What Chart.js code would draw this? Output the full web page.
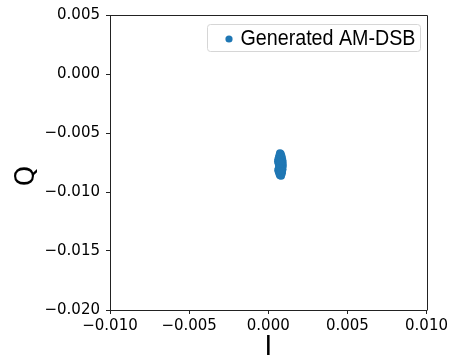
<!DOCTYPE html>
<html>
<head>
<meta charset="utf-8">
<script src="https://cdn.jsdelivr.net/npm/chart.js@4/dist/chart.umd.min.js"></script>
<style>
html,body{margin:0;padding:0;background:#fff;}
#wrap{width:451px;height:356px;}
</style>
</head>
<body>
<div id="wrap"><canvas id="c" width="451" height="356"></canvas></div>
<script>
const seriesName = "Generated AM-DSB";
const xTitle = "I";
const yTitle = "Q";
const xTicks = [-0.010, -0.005, 0.000, 0.005, 0.010];
const yTicks = [-0.020, -0.015, -0.010, -0.005, 0.000, 0.005];
const iValues = [0.00074,0.00079,0.00071,0.00083,0.00068,0.00077,0.00086,0.00064,0.00073,0.00082,0.00089,0.00062,0.00070,0.00078,0.00085,0.00091,0.00065,0.00074,0.00081,0.00088,0.00069,0.00077,0.00084,0.00092,0.00071,0.00079,0.00087,0.00066,0.00075,0.00083,0.00090,0.00063,0.00072,0.00080,0.00087,0.00067,0.00076,0.00084,0.00071,0.00079,0.00086,0.00074,0.00081,0.00077,0.00073,0.00080];
const qValues = [-0.00672,-0.00678,-0.00690,-0.00694,-0.00706,-0.00708,-0.00712,-0.00722,-0.00725,-0.00728,-0.00731,-0.00740,-0.00743,-0.00738,-0.00746,-0.00749,-0.00757,-0.00760,-0.00755,-0.00763,-0.00772,-0.00775,-0.00770,-0.00778,-0.00788,-0.00791,-0.00785,-0.00801,-0.00804,-0.00799,-0.00807,-0.00815,-0.00818,-0.00813,-0.00821,-0.00830,-0.00833,-0.00828,-0.00845,-0.00848,-0.00841,-0.00858,-0.00862,-0.00752,-0.00796,-0.00823];

const points = iValues.map((x, i) => ({x: x, y: qValues[i]}));
const pointColor = '#1f77b4';

function fmt(v){
  if (Math.abs(v) < 1e-9) return "0.000";
  return v.toFixed(3).replace('-', '\u2212');
}

function roundRect(ctx, x0, y0, x1, y1, r){
  ctx.beginPath();
  ctx.moveTo(x0 + r, y0);
  ctx.lineTo(x1 - r, y0);
  ctx.quadraticCurveTo(x1, y0, x1, y0 + r);
  ctx.lineTo(x1, y1 - r);
  ctx.quadraticCurveTo(x1, y1, x1 - r, y1);
  ctx.lineTo(x0 + r, y1);
  ctx.quadraticCurveTo(x0, y1, x0, y1 - r);
  ctx.lineTo(x0, y0 + r);
  ctx.quadraticCurveTo(x0, y0, x0 + r, y0);
  ctx.closePath();
}

const bgPlugin = {
  id: 'bg',
  beforeDraw(chart){
    const ctx = chart.ctx;
    ctx.save();
    ctx.fillStyle = '#fff';
    ctx.fillRect(0, 0, chart.width, chart.height);
    ctx.restore();
  }
};

const overlayPlugin = {
  id: 'overlay',
  afterDraw(chart){
    const a = chart.chartArea;
    const ctx = chart.ctx;
    ctx.save();
    // top and right spines
    ctx.strokeStyle = '#222';
    ctx.lineWidth = 1;
    ctx.beginPath();
    ctx.moveTo(Math.round(a.left) + 0.5, Math.round(a.top) + 0.5);
    ctx.lineTo(Math.round(a.right) + 0.5, Math.round(a.top) + 0.5);
    ctx.lineTo(Math.round(a.right) + 0.5, Math.round(a.bottom) + 0.5);
    ctx.stroke();

    // legend
    ctx.font = '22px "Liberation Sans", Arial, sans-serif';
    const rawW = ctx.measureText(seriesName).width;
    const tw = 175;
    const sx = tw / rawW;
    const bx1 = Math.round(a.right - 7) + 0.5;
    const by0 = Math.round(a.top + 9) + 0.5;
    const by1 = by0 + 27;
    const textRight = bx1 - 5;
    const textLeft = textRight - tw;
    const dotX = textLeft - 11.5;
    const bx0 = Math.round(dotX - 22) + 0.5;
    roundRect(ctx, bx0, by0, bx1, by1, 3);
    ctx.fillStyle = 'rgba(255,255,255,0.8)';
    ctx.fill();
    ctx.strokeStyle = '#d6d6d6';
    ctx.stroke();
    const cy = (by0 + by1) / 2 + 1;
    ctx.beginPath();
    ctx.arc(dotX, cy, 3.6, 0, Math.PI * 2);
    ctx.fillStyle = pointColor;
    ctx.fill();
    ctx.save();
    ctx.translate(textLeft, cy);
    ctx.scale(sx, 1);
    ctx.fillStyle = '#000';
    ctx.textAlign = 'left';
    ctx.textBaseline = 'middle';
    ctx.fillText(seriesName, 0, 0);
    ctx.restore();

    // y title
    ctx.save();
    ctx.translate(27.5, 176);
    ctx.rotate(-Math.PI / 2);
    ctx.font = '26px "DejaVu Sans", sans-serif';
    ctx.fillStyle = '#000';
    ctx.textAlign = 'center';
    ctx.textBaseline = 'middle';
    ctx.fillText(yTitle, 0, 0);
    ctx.restore();

    ctx.restore();
  }
};

new Chart(document.getElementById('c'), {
  type: 'scatter',
  data: {
    datasets: [{
      label: seriesName,
      data: points,
      backgroundColor: pointColor,
      borderColor: pointColor,
      borderWidth: 0,
      pointRadius: 4,
      pointHoverRadius: 4,
      pointStyle: 'circle'
    }]
  },
  options: {
    responsive: false,
    animation: false,
    devicePixelRatio: 1,
    layout: {padding: {top: 15, right: 23, left: 0, bottom: 0}},
    plugins: {
      tooltip: {enabled: false},
      legend: {display: false}
    },
    scales: {
      x: {
        type: 'linear',
        min: -0.010,
        max: 0.010,
        afterBuildTicks(scale){ scale.ticks = xTicks.map(v => ({value: v})); },
        afterFit(scale){ scale.height = 46; },
        ticks: {
          callback: (v) => fmt(v),
          color: '#000',
          padding: 3,
          maxRotation: 0,
          autoSkip: false,
          font: {family: '"DejaVu Sans", sans-serif', size: 15}
        },
        grid: {drawOnChartArea: false, drawTicks: true, tickLength: 4, color: '#222'},
        border: {display: true, color: '#222', width: 1},
        title: {
          display: true,
          text: xTitle,
          color: '#000',
          font: {family: '"DejaVu Sans", sans-serif', size: 26},
          padding: {top: 0, bottom: -8}
        }
      },
      y: {
        type: 'linear',
        min: -0.020,
        max: 0.005,
        afterBuildTicks(scale){ scale.ticks = yTicks.map(v => ({value: v})); },
        afterFit(scale){ scale.width = 110; },
        ticks: {
          callback: (v) => fmt(v),
          color: '#000',
          padding: 6,
          autoSkip: false,
          font: {family: '"DejaVu Sans", sans-serif', size: 15}
        },
        grid: {drawOnChartArea: false, drawTicks: true, tickLength: 4, color: '#222'},
        border: {display: true, color: '#222', width: 1},
        title: {display: false}
      }
    }
  },
  plugins: [bgPlugin, overlayPlugin]
});
</script>
</body>
</html>
